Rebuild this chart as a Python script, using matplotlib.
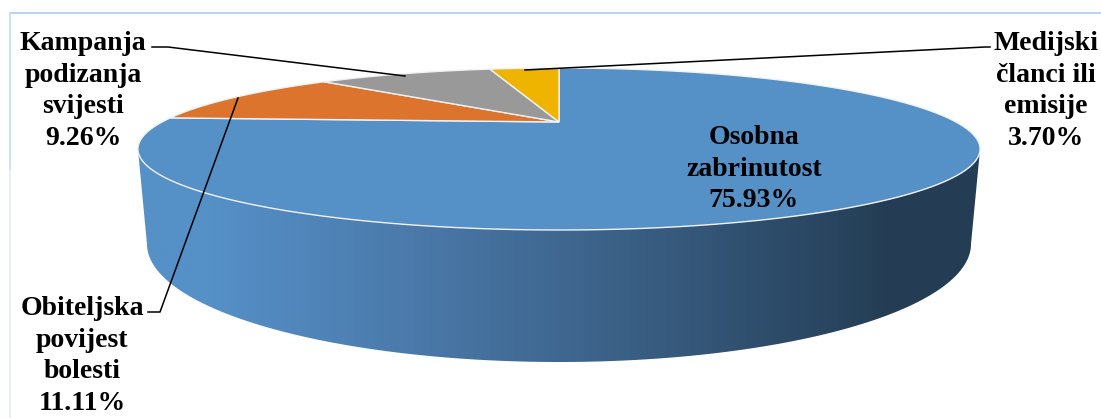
import numpy as np
import matplotlib
matplotlib.use("Agg")
import matplotlib.pyplot as plt
from matplotlib.colors import LinearSegmentedColormap
from matplotlib.patches import Polygon

labels = ["Osobna\nzabrinutost\n75.93%", "Obiteljska\npovijest\nbolesti\n11.11%",
          "Kampanja\npodizanja\nsvijesti\n9.26%", "Medijski\nčlanci ili\nemisije\n3.70%"]
values = [75.93, 11.11, 9.26, 3.70]
colors = ["#5590c7", "#dc742d", "#999999", "#efb400"]

W, H = 1101, 418
fig = plt.figure(figsize=(W / 100, H / 100), dpi=100)
ax = fig.add_axes([0, 0, 1, 1])
ax.set_xlim(0, W)
ax.set_ylim(H, 0)
ax.axis("off")

CX, CY, A, B, K = 559.0, 122.0, 397.0, 72.0, 1 / 3


def rim(theta):
    den = 1 + K * np.cos(theta)
    return CX + A * np.sin(theta) / den, CY - B * np.cos(theta) / den


# chart border (top and left only are visible)
ax.plot([10, W], [12.5, 12.5], color="#a9cdf5", lw=1.2, zorder=1)
ax.plot([10, 10], [12.5, 170], color="#c6dcf8", lw=1.2, zorder=1)
ax.plot([10, 10], [170, H], color="#dfeafb", lw=1.2, zorder=1)

# side wall with gradient
t_ext = np.arccos(-K)
front = np.linspace(t_ext, 2 * np.pi - t_ext, 300)
xt, yt = rim(front)
phi = np.linspace(np.pi, 0, 300)
xb, yb = 559 + 412 * np.cos(phi), 244 + 118 * np.sin(phi)
side = np.column_stack([np.r_[xt, xb], np.r_[yt, yb]])
poly = Polygon(side, closed=True, fc="none", ec="none", zorder=2)
ax.add_patch(poly)
cmap = LinearSegmentedColormap.from_list(
    "wall", [(0, "#5590c7"), (0.09, "#5590c7"), (0.3, "#4c7cae"), (0.64, "#36597c"),
             (0.89, "#243d54"), (1, "#243d54")])
grad = np.linspace(0, 1, 512).reshape(1, -1)
im = ax.imshow(grad, extent=[135, 985, 370, 120], cmap=cmap, aspect="auto", zorder=2)
im.set_clip_path(poly)
ax.set_xlim(0, W)
ax.set_ylim(H, 0)

# top face wedges
start = 0.0
total = sum(values)
for v, c in zip(values, colors):
    end = start + v / total * 2 * np.pi
    th = np.linspace(start, end, 240)
    x, y = rim(th)
    ax.add_patch(Polygon(np.column_stack([np.r_[CX, x], np.r_[CY, y]]), closed=True,
                         fc=c, ec="#f0f2f4", lw=1.0, zorder=3, joinstyle="miter"))
    start = end

# leader lines
for xs, ys in [([152, 168, 405], [47, 47, 76]),
               ([525, 985, 990], [70, 47, 47]),
               ([238, 160, 148], [98, 312, 312])]:
    ax.plot(xs, ys, color="black", lw=1.1, zorder=4, solid_joinstyle="round")

# labels
font = dict(family="Liberation Serif", weight="bold", size=20, color="black",
            ha="center", va="center", linespacing=1.35, zorder=5)
positions = [(754, 169), (82, 356), (83, 91), (1046, 91)]
for (x, y), t in zip(positions, labels):
    ax.text(x, y, t, **font)

fig.savefig("out.png", dpi=100)
